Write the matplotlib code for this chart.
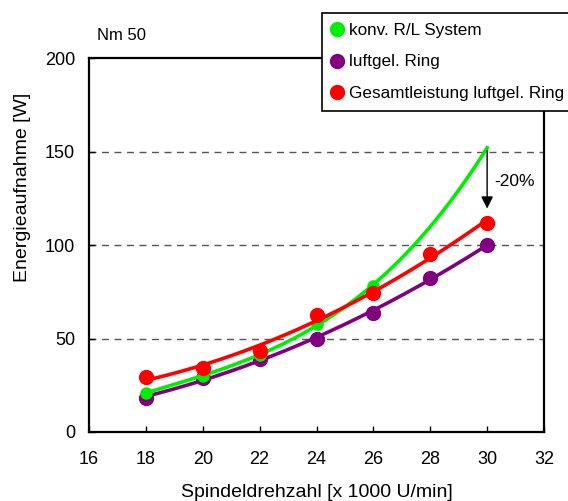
import numpy as np
import matplotlib
matplotlib.use('Agg')
import matplotlib.pyplot as plt
from matplotlib.lines import Line2D

plt.rcParams['font.family'] = ['Liberation Sans', 'DejaVu Sans']

# data
drehzahl = [18, 20, 22, 24, 26, 28, 30]
konv = [21, 30, 41, 58, 78, 110, 152]
luftgel = [18, 29, 39, 50, 63.5, 82.5, 100]
gesamt = [29.5, 34, 43.5, 62.5, 74.5, 95, 112]

fig = plt.figure(figsize=(5.68, 5.01), dpi=100)
ax = fig.add_axes([89/568, 69/501, 455/568, 374/501])

xs = np.linspace(18, 30, 200)

# konv. R/L System: smooth curve
c = np.polyfit(drehzahl, konv, 3)
ax.plot(xs, np.polyval(c, xs), color='#00ee00', lw=2.6, zorder=3)
ax.plot(drehzahl, konv, 'o', color='#00ee00', ms=8, markevery=[0, 1, 2, 3, 4], zorder=3)

# luftgel. Ring
c = np.polyfit(drehzahl, luftgel, 2)
ax.plot(xs, np.polyval(c, xs), color='#800080', lw=2.6, zorder=2)
ax.plot(drehzahl, luftgel, 'o', color='#800080', ms=10, zorder=2)

# Gesamtleistung luftgel. Ring
c = np.polyfit(drehzahl, gesamt, 2)
ax.plot(xs, np.polyval(c, xs), color='#ff0000', lw=2.6, zorder=4)
ax.plot(drehzahl, gesamt, 'o', color='#ff0000', ms=10, zorder=4)

ax.set_xlim(16, 32)
ax.set_ylim(0, 200)
ax.set_xticks(range(16, 33, 2))
ax.set_yticks(range(0, 201, 50))
ax.tick_params(direction='in', length=4, labelsize=13, width=1)
ax.tick_params(axis='x', pad=14)
ax.tick_params(axis='y', pad=10)
for y in [50, 100, 150]:
    ax.axhline(y, color='#555555', lw=1, ls=(0, (5, 4)), zorder=1)
for s in ax.spines.values():
    s.set_linewidth(1.6)

ax.set_xlabel('Spindeldrehzahl [x 1000 U/min]', fontsize=14, labelpad=11)
ax.set_ylabel('Energieaufnahme [W]', fontsize=14)
ax.yaxis.set_label_coords(-0.127, 0.655)
fig.text(97/568, 1 - 36/501, 'Nm 50', fontsize=12, va='center')

# -20% arrow
ax.annotate('', xy=(30, gesamt[-1] + 6), xytext=(30, konv[-1]),
            arrowprops=dict(arrowstyle='-|>', color='black', lw=1, mutation_scale=18),
            zorder=5)
ax.text(30.25, 134, '-20%', fontsize=12.5, va='center')

# legend
handles = [Line2D([], [], ls='', marker='o', color='#00ee00', ms=10),
           Line2D([], [], ls='', marker='o', color='#800080', ms=10),
           Line2D([], [], ls='', marker='o', color='#ff0000', ms=10)]
leg = fig.legend(handles, ['konv. R/L System', 'luftgel. Ring', 'Gesamtleistung luftgel. Ring'],
                 loc='upper left', bbox_to_anchor=(322/568, 1 - 13/501), fontsize=12.3,
                 fancybox=False, framealpha=1, edgecolor='black', handlelength=0.6,
                 handletextpad=0.4, borderpad=0.6, labelspacing=0.95, borderaxespad=0)
leg.get_frame().set_linewidth(1.2)
leg.set_zorder(10)

fig.savefig('out.png', dpi=100)
